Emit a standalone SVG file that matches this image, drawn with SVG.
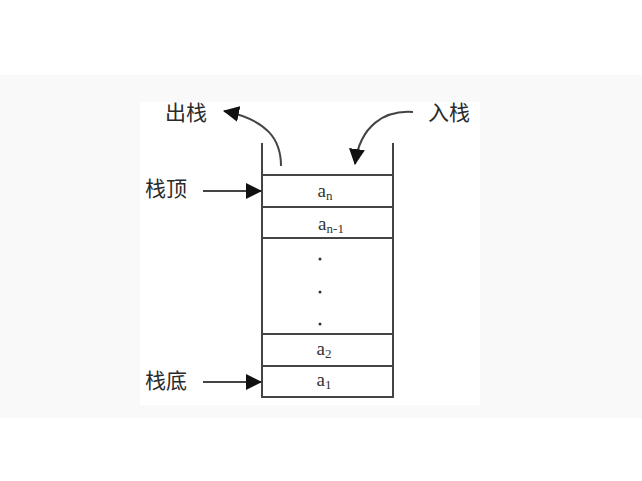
<svg xmlns="http://www.w3.org/2000/svg" width="642" height="481" viewBox="0 0 642 481">
  <defs>
    <style>
      .ln { stroke: #444; stroke-width: 2; fill: none; }
      .cn { font-family: "Noto Sans CJK SC", "Noto Sans", sans-serif; font-size: 21px; fill: #2a2a2a; }
      .el { font-family: "Liberation Serif", serif; font-size: 19px; fill: #333; text-anchor: middle; }
      .sub { font-size: 13px; }
    </style>
    <marker id="ahb" markerWidth="16" markerHeight="16" refX="15" refY="8" orient="auto" markerUnits="userSpaceOnUse" viewBox="0 0 16 16">
      <path d="M0,0 L16,8 L0,16 Z" fill="#111"/>
    </marker>
  </defs>
  <rect x="0" y="0" width="642" height="481" fill="#ffffff"/>
  <rect x="0" y="75" width="642" height="343" fill="#f9f9f9"/>
  <rect x="140" y="102" width="340" height="303" fill="#ffffff"/>

  <g id="stack">
    <line class="ln" x1="262" y1="143" x2="262" y2="397"/>
    <line class="ln" x1="393" y1="143" x2="393" y2="397"/>
    <line class="ln" x1="262" y1="175" x2="393" y2="175"/>
    <line class="ln" x1="262" y1="207" x2="393" y2="207"/>
    <line class="ln" x1="262" y1="238" x2="393" y2="238"/>
    <line class="ln" x1="262" y1="334" x2="393" y2="334"/>
    <line class="ln" x1="262" y1="366" x2="393" y2="366"/>
    <line class="ln" x1="261" y1="397" x2="394" y2="397"/>
  </g>

  <g id="an"><text class="el" x="325" y="197">a<tspan class="sub" dy="3">n</tspan></text></g>
  <g id="an-1"><text class="el" x="331" y="230">a<tspan class="sub" dy="3">n-1</tspan></text></g>
  <g id="dots">
    <circle cx="320" cy="259" r="1.5" fill="#333"/>
    <circle cx="320" cy="292" r="1.5" fill="#333"/>
    <circle cx="320" cy="324" r="1.5" fill="#333"/>
  </g>
  <g id="a2"><text class="el" x="324" y="355">a<tspan class="sub" dy="3">2</tspan></text></g>
  <g id="a1"><text class="el" x="324" y="386">a<tspan class="sub" dy="3">1</tspan></text></g>

  <g id="label-pop"><text class="cn" x="165" y="120">出栈</text></g>
  <g id="label-push"><text class="cn" x="428" y="120">入栈</text></g>
  <g id="label-top"><text class="cn" x="145" y="196">栈顶</text></g>
  <g id="label-bottom"><text class="cn" x="145" y="388">栈底</text></g>

  <g id="connectors">
    <path class="ln" d="M281,166 C281,140 268,120 224,111" marker-end="url(#ahb)"/>
    <path class="ln" d="M413,112 C385,110 360,125 355,164" marker-end="url(#ahb)"/>
    <line class="ln" x1="203" y1="191" x2="261" y2="191" marker-end="url(#ahb)"/>
    <line class="ln" x1="203" y1="382" x2="261" y2="382" marker-end="url(#ahb)"/>
  </g>
</svg>
